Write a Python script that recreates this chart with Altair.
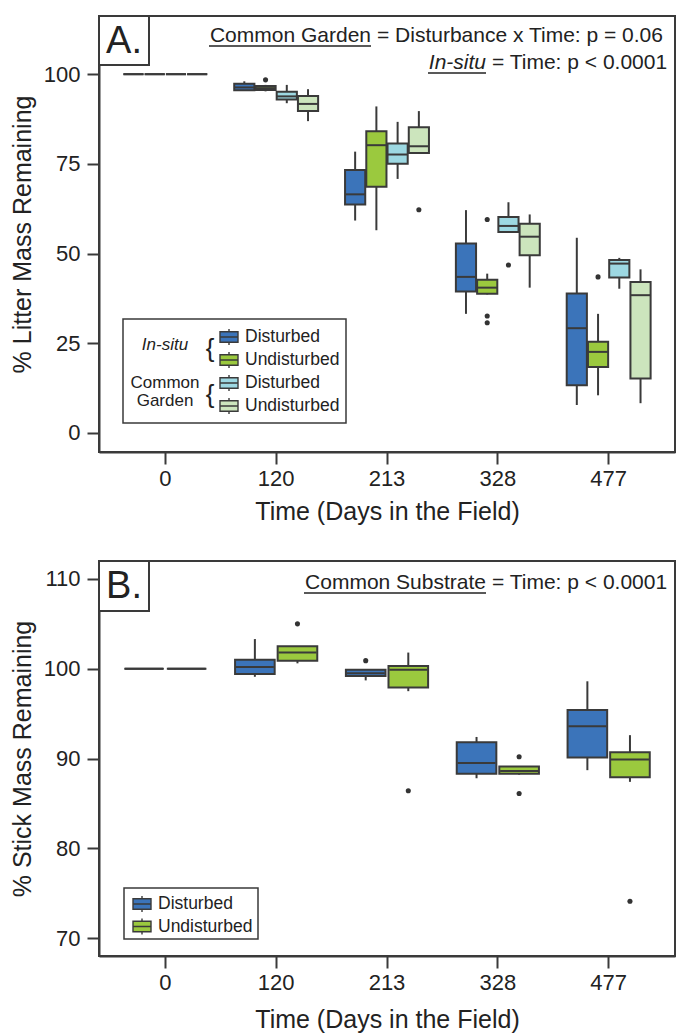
import altair as alt
import pandas as pd

FONT = "Liberation Sans"
INK = "#3a3a3a"

times = ["0", "120", "213", "328", "477"]

# ---------------- Panel A: litter ----------------
groups_a = ["In-situ Disturbed", "In-situ Undisturbed",
            "Common Garden Disturbed", "Common Garden Undisturbed"]
colors_a = ["#3B74BA", "#9BC93E", "#9DD8E2", "#CCE5BD"]

# per group, per time: whisker low, q1, median, q3, whisker high
a_lo = {
    "In-situ Disturbed":          [100, 95.5, 59.2, 33.2, 7.8],
    "In-situ Undisturbed":        [100, 95.2, 56.5, 38.6, 10.5],
    "Common Garden Disturbed":    [100, 91.9, 70.8, 56.0, 40.2],
    "Common Garden Undisturbed":  [100, 86.9, 78.0, 40.5, 8.3],
}
a_q1 = {
    "In-situ Disturbed":          [100, 95.5, 63.7, 39.4, 13.3],
    "In-situ Undisturbed":        [100, 95.6, 68.6, 38.8, 18.4],
    "Common Garden Disturbed":    [100, 92.9, 75.0, 56.0, 43.3],
    "Common Garden Undisturbed":  [100, 89.7, 78.0, 49.5, 15.2],
}
a_med = {
    "In-situ Disturbed":          [100, 96.3, 66.5, 43.5, 29.2],
    "In-situ Undisturbed":        [100, 96.1, 80.2, 40.5, 22.6],
    "Common Garden Disturbed":    [100, 93.8, 77.6, 57.7, 47.2],
    "Common Garden Undisturbed":  [100, 91.7, 79.9, 54.7, 38.4],
}
a_q3 = {
    "In-situ Disturbed":          [100, 97.3, 73.3, 52.8, 38.9],
    "In-situ Undisturbed":        [100, 96.7, 84.1, 42.7, 25.4],
    "Common Garden Disturbed":    [100, 95.1, 80.7, 60.2, 48.2],
    "Common Garden Undisturbed":  [100, 93.9, 85.2, 58.3, 42.1],
}
a_hi = {
    "In-situ Disturbed":          [100, 98.0, 78.4, 62.1, 54.4],
    "In-situ Undisturbed":        [100, 97.0, 91.0, 44.4, 33.2],
    "Common Garden Disturbed":    [100, 97.0, 86.7, 64.3, 48.8],
    "Common Garden Undisturbed":  [100, 95.8, 89.7, 60.9, 45.6],
}
a_out_time = ["120", "213", "328", "328", "328", "328", "477"]
a_out_group = ["In-situ Undisturbed", "Common Garden Undisturbed",
               "In-situ Undisturbed", "In-situ Undisturbed", "In-situ Undisturbed",
               "Common Garden Disturbed", "In-situ Undisturbed"]
a_out_value = [98.4, 62.2, 59.5, 32.6, 30.7, 46.8, 43.5]

# ---------------- Panel B: sticks ----------------
groups_b = ["Disturbed", "Undisturbed"]
colors_b = ["#3B74BA", "#9BC93E"]
b_lo = {"Disturbed": [100, 99.1, 98.7, 87.8, 88.7],
        "Undisturbed": [100, 100.6, 97.5, 88.2, 87.4]}
b_q1 = {"Disturbed": [100, 99.4, 99.2, 88.3, 90.1],
        "Undisturbed": [100, 100.9, 97.9, 88.3, 87.9]}
b_med = {"Disturbed": [100, 100.2, 99.5, 89.5, 93.6],
         "Undisturbed": [100, 101.8, 99.9, 88.6, 89.9]}
b_q3 = {"Disturbed": [100, 101.0, 99.9, 91.8, 95.4],
        "Undisturbed": [100, 102.5, 100.3, 89.1, 90.7]}
b_hi = {"Disturbed": [100, 103.3, 99.9, 92.4, 98.6],
        "Undisturbed": [100, 102.5, 101.8, 89.1, 92.6]}
b_out_time = ["120", "213", "213", "328", "328", "477"]
b_out_group = ["Undisturbed", "Disturbed", "Undisturbed", "Undisturbed", "Undisturbed", "Undisturbed"]
b_out_value = [105.0, 100.9, 86.4, 90.2, 86.1, 74.1]


def stats_frame(groups, lo, q1, med, q3, hi):
    rows = []
    for g in groups:
        for i, t in enumerate(times):
            rows.append({"time": t, "group": g, "lo": lo[g][i], "q1": q1[g][i],
                         "med": med[g][i], "q3": q3[g][i], "hi": hi[g][i]})
    return pd.DataFrame(rows)


df_a = stats_frame(groups_a, a_lo, a_q1, a_med, a_q3, a_hi)
out_a = pd.DataFrame({"time": a_out_time, "group": a_out_group, "value": a_out_value})
df_b = stats_frame(groups_b, b_lo, b_q1, b_med, b_q3, b_hi)
out_b = pd.DataFrame({"time": b_out_time, "group": b_out_group, "value": b_out_value})

BOX_SYMBOL = "M-1,-0.58H1V0.58H-1Z M-1,0H1 M0,-0.58V-0.9 M0,0.58V0.9"
ONE = alt.Data(values=[{"k": 1}])


def txt(text, x, y, size=21, align="left", style="normal", baseline="alphabetic"):
    return alt.Chart(ONE).mark_text(
        text=text, fontSize=size, align=align, baseline=baseline, font=FONT,
        fontStyle=style, color="#222"
    ).encode(x=alt.value(x), y=alt.value(y))


def hline(x1, x2, y, w=1.3, color="#222"):
    return alt.Chart(ONE).mark_rule(color=color, strokeWidth=w).encode(
        x=alt.value(x1), x2=alt.value(x2), y=alt.value(y))


def rect(x1, x2, y1, y2, w=1.5):
    return alt.Chart(ONE).mark_rect(fill="white", stroke=INK, strokeWidth=w).encode(
        x=alt.value(x1), x2=alt.value(x2), y=alt.value(y1), y2=alt.value(y2))


def panel(df, out, groups, colors, ylab, ydom, yvals, height, box_w, off_pi, off_po,
          legend_xy, row_pad, xtitle_pad, deco):
    xenc = alt.X("time:N", sort=times,
                 scale=alt.Scale(domain=times, paddingInner=0.243, paddingOuter=0.22),
                 axis=alt.Axis(title="Time (Days in the Field)", labelAngle=0,
                               titlePadding=xtitle_pad))
    xo = alt.XOffset("group:N", sort=groups,
                     scale=alt.Scale(domain=groups, paddingInner=off_pi, paddingOuter=off_po))
    yscale = alt.Scale(domain=ydom, nice=False, zero=False)
    yaxis = alt.Axis(title=ylab, values=yvals)
    color = alt.Color("group:N", sort=groups,
                      scale=alt.Scale(domain=groups, range=colors),
                      legend=alt.Legend(
                          orient="none", legendX=legend_xy[0], legendY=legend_xy[1],
                          title=None, padding=0, symbolType=BOX_SYMBOL, symbolSize=324,
                          symbolStrokeColor=INK, symbolStrokeWidth=1.4, symbolOpacity=1,
                          labelFontSize=17.5, labelFont=FONT, labelColor="#222",
                          labelOffset=6, rowPadding=row_pad,
                          labelExpr="indexof(datum.label, 'Undisturbed') >= 0 ? 'Undisturbed' : 'Disturbed'"))
    base = alt.Chart(df)
    whisk = base.mark_rule(color=INK, strokeWidth=2).encode(
        x=xenc, xOffset=xo, y=alt.Y("lo:Q", scale=yscale, axis=yaxis), y2="hi:Q")
    box = base.mark_bar(stroke=INK, strokeWidth=2, opacity=1).encode(
        x=xenc, xOffset=xo, y=alt.Y("q1:Q", scale=yscale), y2="q3:Q", color=color)
    med = base.mark_tick(color=INK, thickness=2, size=box_w, opacity=1).encode(
        x=xenc, xOffset=xo, y=alt.Y("med:Q", scale=yscale))
    pts = alt.Chart(out).mark_circle(color="#333", size=26, opacity=1).encode(
        x=xenc, xOffset=xo, y=alt.Y("value:Q", scale=yscale))
    layers = [deco[0], whisk, box, med, pts] + deco[1:]
    return alt.layer(*layers).properties(width=576, height=height)


# decorations, panel A (plot coordinates)
deco_a = [
    rect(24, 247, 303, 407),
    rect(0, 50, 0, 49, w=2),
    txt("A.", 25, 26, size=38, align="center", baseline="middle"),
    txt("Common Garden", 272, 26, align="right"),
    txt("= Disturbance x Time: p = 0.06", 278, 26),
    hline(110, 272, 30),
    txt("In-situ", 387, 53, align="right", style="italic"),
    txt("= Time: p < 0.0001", 393, 53),
    hline(329, 387, 57),
    txt("In-situ", 66, 329, size=17, align="center", style="italic", baseline="middle"),
    txt("Common", 66, 367, size=17, align="center", baseline="middle"),
    txt("Garden", 66, 385, size=17, align="center", baseline="middle"),
    txt("{", 111, 333, size=26, align="center", baseline="middle"),
    txt("{", 111, 379, size=26, align="center", baseline="middle"),
]
deco_b = [
    rect(25, 159, 327, 378),
    rect(0, 50, 0, 50, w=2),
    txt("B.", 25, 26, size=38, align="center", baseline="middle"),
    txt("Common Substrate", 387, 28, align="right"),
    txt("= Time: p < 0.0001", 393, 28),
    hline(205, 387, 32),
]

chart_a = panel(df_a, out_a, groups_a, colors_a, "% Litter Mass Remaining",
                [-5.3, 116.2], [0, 25, 50, 75, 100], 436, 20, 0.05, 0.0,
                (120, 311), 1.0, 10, deco_a)
chart_b = panel(df_b, out_b, groups_b, colors_b, "% Stick Mass Remaining",
                [68, 112], [70, 80, 90, 100, 110], 395, 38, 0.07, 0.02,
                (33, 333), 0.5, 14, deco_b)

chart = alt.vconcat(chart_a, chart_b, spacing=34).resolve_scale(
    color="independent", xOffset="independent"
).properties(
    padding={"left": 9, "top": 14, "right": 0, "bottom": 0}
).configure(font=FONT).configure_view(
    stroke=INK, strokeWidth=2
).configure_axis(
    domainColor=INK, domainWidth=2, tickColor=INK, tickWidth=2, tickSize=12,
    labelFontSize=22, labelColor="#222", labelFont=FONT, titleFont=FONT,
    titleFontSize=25, titleFontWeight="normal", titleColor="#222", grid=False
).configure_axisY(labelPadding=7, titlePadding=8
).configure_axisX(labelPadding=4)

chart.save("out.html", embed_options={"renderer": "svg", "actions": False})
